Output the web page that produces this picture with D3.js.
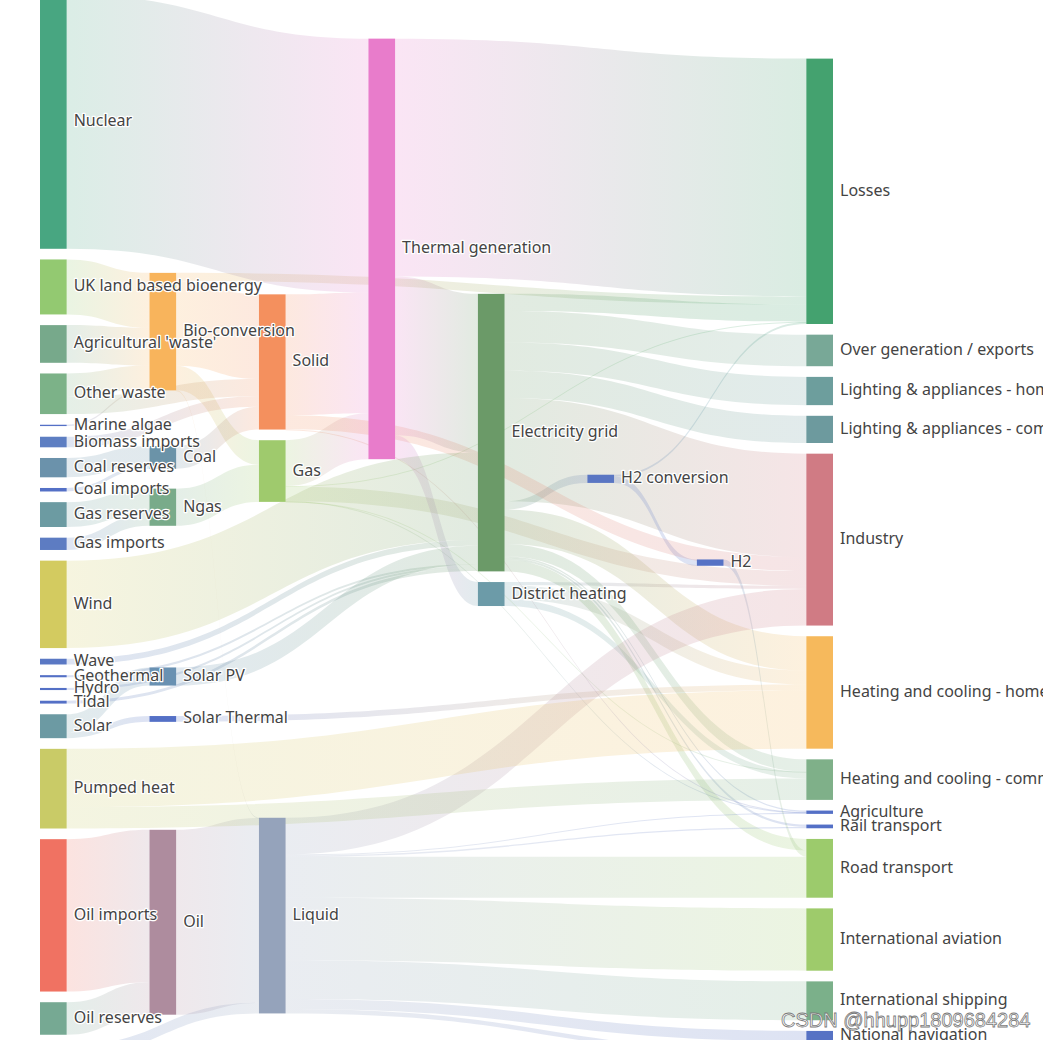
<!DOCTYPE html>
<html>
<head>
<meta charset="utf-8">
<script src="https://cdn.jsdelivr.net/npm/d3@7/dist/d3.min.js"></script>
<style>
  body { margin: 0; background: #fff; overflow: hidden; }
  text { font-family: "Noto Sans", "DejaVu Sans", sans-serif; }
</style>
</head>
<body>
<div id="chart"></div>
<script>
// nodes, in the order of the energy data set
const nodeNames = [
    "Agricultural 'waste'", "Bio-conversion", "Liquid", "Losses", "Solid", "Gas",
    "Biofuel imports", "Biomass imports", "Coal imports", "Coal", "Coal reserves",
    "District heating", "Industry", "Heating and cooling - commercial",
    "Heating and cooling - homes", "Electricity grid", "Over generation / exports",
    "H2 conversion", "Road transport", "Agriculture", "Rail transport",
    "Lighting & appliances - commercial", "Lighting & appliances - homes",
    "Gas imports", "Ngas", "Gas reserves", "Thermal generation", "Geothermal", "H2",
    "Hydro", "International shipping", "Domestic aviation", "International aviation",
    "National navigation", "Marine algae", "Nuclear", "Oil imports", "Oil", "Oil reserves",
    "Other waste", "Pumped heat", "Solar PV", "Solar Thermal", "Solar", "Tidal",
    "UK land based bioenergy", "Wave", "Wind"
];

// [source, target, value]
const links = [
    [0, 1, 124.729], [1, 2, 0.597], [1, 3, 26.862], [1, 4, 280.322], [1, 5, 81.144],
    [6, 2, 35], [7, 4, 35], [8, 9, 11.606], [10, 9, 63.965], [9, 4, 75.571],
    [11, 12, 10.639], [11, 13, 22.505], [11, 14, 46.184],
    [15, 16, 104.453], [15, 14, 113.726], [15, 17, 27.14], [15, 12, 342.165],
    [15, 18, 37.797], [15, 19, 4.412], [15, 13, 40.858], [15, 3, 56.691],
    [15, 20, 7.863], [15, 21, 90.008], [15, 22, 93.494],
    [23, 24, 40.719], [25, 24, 82.233],
    [5, 13, 0.129], [5, 3, 1.401], [5, 26, 151.891], [5, 19, 2.096], [5, 12, 48.58],
    [27, 15, 7.013], [17, 28, 20.897], [17, 3, 6.242], [28, 18, 20.897], [29, 15, 6.995],
    [2, 12, 121.066], [2, 30, 128.69], [2, 18, 135.835], [2, 31, 14.458],
    [2, 32, 206.267], [2, 19, 3.64], [2, 33, 33.218], [2, 20, 4.413],
    [34, 1, 4.375], [24, 5, 122.952], [35, 26, 839.978],
    [36, 37, 504.287], [38, 37, 107.703], [37, 2, 611.99],
    [39, 4, 56.587], [39, 1, 77.81], [40, 14, 193.026], [40, 13, 70.672],
    [41, 15, 59.901], [42, 14, 19.263], [43, 42, 19.263], [43, 41, 59.901],
    [4, 19, 0.882], [4, 26, 400.12], [4, 12, 46.477],
    [26, 15, 525.531], [26, 3, 787.129], [26, 11, 79.329],
    [44, 15, 9.452], [45, 1, 182.01], [46, 15, 19.013], [47, 15, 289.366]
];

// node colours
const nodeColors = {
    "Nuclear": "#48a681", "UK land based bioenergy": "#93c971", "Agricultural 'waste'": "#77a98b",
    "Other waste": "#7cb288", "Marine algae": "#5470c6", "Biomass imports": "#5d7ec2",
    "Coal reserves": "#6b92ab", "Coal imports": "#5470c6", "Gas reserves": "#6c9ba2",
    "Gas imports": "#5d7cc2", "Wind": "#d3cb60", "Wave": "#5a78c4", "Geothermal": "#5470c6",
    "Hydro": "#5470c6", "Tidal": "#5470c6", "Solar": "#6c9aa3", "Pumped heat": "#c9cb67",
    "Oil imports": "#f07262", "Oil reserves": "#76a993", "Biofuel imports": "#5d7ec2",
    "Bio-conversion": "#f8b45c", "Coal": "#6b93a8", "Ngas": "#79ab8a", "Solar PV": "#6991b2",
    "Solar Thermal": "#5470c6", "Oil": "#ae8c9e", "Solid": "#f4905e", "Gas": "#9fca6d",
    "Liquid": "#95a3bb", "Thermal generation": "#e87ccb", "Electricity grid": "#6b9a68",
    "District heating": "#6c9ba8", "H2 conversion": "#5a76c3", "H2": "#5672c5",
    "Losses": "#44a26f", "Over generation / exports": "#78a897",
    "Lighting & appliances - homes": "#6d9e9d", "Lighting & appliances - commercial": "#6d9a9e",
    "Industry": "#d07b84", "Heating and cooling - homes": "#f6b95c",
    "Heating and cooling - commercial": "#7fb089", "Agriculture": "#5470c6",
    "Rail transport": "#5470c6", "Road transport": "#9ccb6c", "International aviation": "#9ecb6b",
    "International shipping": "#7bb08a", "National navigation": "#5672c4",
    "Domestic aviation": "#5470c6"
};

const width = 1043, height = 1040;
const nodeWidth = 26.67, nodeGap = 10.67, curveness = 0.5;
let iterations = 32;
// layout box (the chart runs off the top and bottom of the view)
const box = { left: 40, right: 833, top: -5, bottom: 1056 };
const boxH = box.bottom - box.top;

// build graph
const gNodes = nodeNames.map((name, i) => ({ name: name, index: i, inEdges: [], outEdges: [] }));
const gEdges = links.map(l => {
    let e = { source: gNodes[l[0]], target: gNodes[l[1]], value: l[2] };
    e.source.outEdges.push(e);
    e.target.inEdges.push(e);
    return e;
});
gNodes.forEach(n => {
    n.value = Math.max(d3.sum(n.inEdges, e => e.value), d3.sum(n.outEdges, e => e.value));
});

// columns by longest path from the sources
const indeg = gNodes.map(n => n.inEdges.length);
let zero = gNodes.filter(n => indeg[n.index] === 0);
let next = [];
let depth = 0;
while (zero.length) {
    zero.forEach(n => {
        n.depth = depth;
        n.outEdges.forEach(e => {
            if (--indeg[e.target.index] === 0 && next.indexOf(e.target) < 0) next.push(e.target);
        });
    });
    depth++;
    zero = next;
    next = [];
}
const maxDepth = depth - 1;
// justify: sinks to the last column
gNodes.forEach(n => { if (!n.outEdges.length) n.depth = maxDepth; });

const x = d3.scaleLinear().domain([0, maxDepth]).range([box.left, box.right - nodeWidth]);
gNodes.forEach(n => { n.x = x(n.depth); });

const columns = d3.groups(gNodes, n => n.depth)
    .sort((a, b) => a[0] - b[0])
    .map(d => d[1]);

// value -> pixel scale
let ky = d3.min(columns, col => (boxH - (col.length - 1) * nodeGap) / d3.sum(col, n => n.value));
const size = d3.scaleLinear().domain([0, 1]).range([0, ky]);

columns.forEach(col => col.forEach((n, i) => { n.y = i; n.dy = size(n.value); }));
gEdges.forEach(e => { e.dy = size(e.value); });

function center(n) { return n.y + n.dy / 2; }

function resolveCollisions() {
    columns.forEach(col => {
        col.sort((a, b) => a.y - b.y);
        let y0 = 0, n, dy;
        for (let i = 0; i < col.length; i++) {
            n = col[i];
            dy = y0 - n.y;
            if (dy > 0) n.y += dy;
            y0 = n.y + n.dy + nodeGap;
        }
        dy = y0 - nodeGap - boxH;
        if (dy > 0) {
            n.y -= dy;
            y0 = n.y;
            for (let i = col.length - 2; i >= 0; --i) {
                n = col[i];
                dy = n.y + n.dy + nodeGap - y0;
                if (dy > 0) n.y -= dy;
                y0 = n.y;
            }
        }
    });
}

function relaxRightToLeft(alpha) {
    columns.slice().reverse().forEach(col => {
        col.forEach(n => {
            if (n.outEdges.length) {
                let y = d3.sum(n.outEdges, e => center(e.target) * e.value) / d3.sum(n.outEdges, e => e.value);
                n.y += (y - center(n)) * alpha;
            }
        });
    });
}

function relaxLeftToRight(alpha) {
    columns.forEach(col => {
        col.forEach(n => {
            if (n.inEdges.length) {
                let y = d3.sum(n.inEdges, e => center(e.source) * e.value) / d3.sum(n.inEdges, e => e.value);
                n.y += (y - center(n)) * alpha;
            }
        });
    });
}

resolveCollisions();
for (let alpha = 1; iterations > 0; iterations--) {
    alpha *= 0.99;
    relaxRightToLeft(alpha);
    resolveCollisions();
    relaxLeftToRight(alpha);
    resolveCollisions();
}

// link offsets inside each node
gNodes.forEach(n => {
    n.outEdges.sort((a, b) => a.target.y - b.target.y);
    n.inEdges.sort((a, b) => a.source.y - b.source.y);
});
gNodes.forEach(n => {
    let sy = 0, ty = 0;
    n.outEdges.forEach(e => { e.sy = sy; sy += e.dy; });
    n.inEdges.forEach(e => { e.ty = ty; ty += e.dy; });
});
gNodes.forEach(n => { n.y += box.top; });

function linkPath(e) {
    const x1 = e.source.x + nodeWidth, y1 = e.source.y + e.sy;
    const x2 = e.target.x, y2 = e.target.y + e.ty;
    const cpx1 = x1 * (1 - curveness) + x2 * curveness;
    const cpx2 = x1 * curveness + x2 * (1 - curveness);
    const ext = Math.max(1, e.dy);
    const p = d3.path();
    p.moveTo(x1, y1);
    p.bezierCurveTo(cpx1, y1, cpx2, y2, x2, y2);
    p.lineTo(x2, y2 + ext);
    p.bezierCurveTo(cpx2, y2 + ext, cpx1, y1 + ext, x1, y1 + ext);
    p.closePath();
    return p.toString();
}

const svg = d3.select('#chart')
    .append('svg')
    .attr('width', width)
    .attr('height', height);

const defs = svg.append('defs');
defs.selectAll('linearGradient')
    .data(gEdges)
    .enter().append('linearGradient')
    .attr('id', (d, i) => 'grad' + i)
    .attr('gradientUnits', 'userSpaceOnUse')
    .attr('x1', d => d.source.x + nodeWidth)
    .attr('x2', d => d.target.x)
    .attr('y1', 0)
    .attr('y2', 0)
    .each(function(d) {
        d3.select(this).append('stop').attr('offset', '0%').attr('stop-color', nodeColors[d.source.name]);
        d3.select(this).append('stop').attr('offset', '100%').attr('stop-color', nodeColors[d.target.name]);
    });

svg.append('g')
    .selectAll('path')
    .data(gEdges)
    .enter().append('path')
    .attr('d', linkPath)
    .attr('fill', (d, i) => 'url(#grad' + i + ')')
    .attr('fill-opacity', 0.2);

svg.append('g')
    .selectAll('rect')
    .data(gNodes)
    .enter().append('rect')
    .attr('x', d => d.x)
    .attr('y', d => d.y)
    .attr('width', nodeWidth)
    .attr('height', d => Math.max(1, d.dy))
    .attr('fill', d => nodeColors[d.name]);

svg.append('g')
    .selectAll('text')
    .data(gNodes)
    .enter().append('text')
    .attr('x', d => d.x + nodeWidth + 7)
    .attr('y', d => d.y + d.dy / 2)
    .attr('dy', '0.28em')
    .attr('font-size', 16)
    .attr('fill', '#444')
    .attr('stroke', '#fff')
    .attr('stroke-width', 2.5)
    .attr('stroke-linejoin', 'round')
    .attr('paint-order', 'stroke')
    .text(d => d.name);

// blog watermark
svg.append('text')
    .attr('x', 781)
    .attr('y', 1027)
    .attr('font-size', 20)
    .style('font-family', '"Liberation Sans", Arial, sans-serif')
    .attr('fill', '#fff')
    .attr('fill-opacity', 0.85)
    .attr('stroke', '#7a7a7a')
    .attr('stroke-width', 0.8)
    .text('CSDN @hhupp1809684284');
</script>
</body>
</html>
